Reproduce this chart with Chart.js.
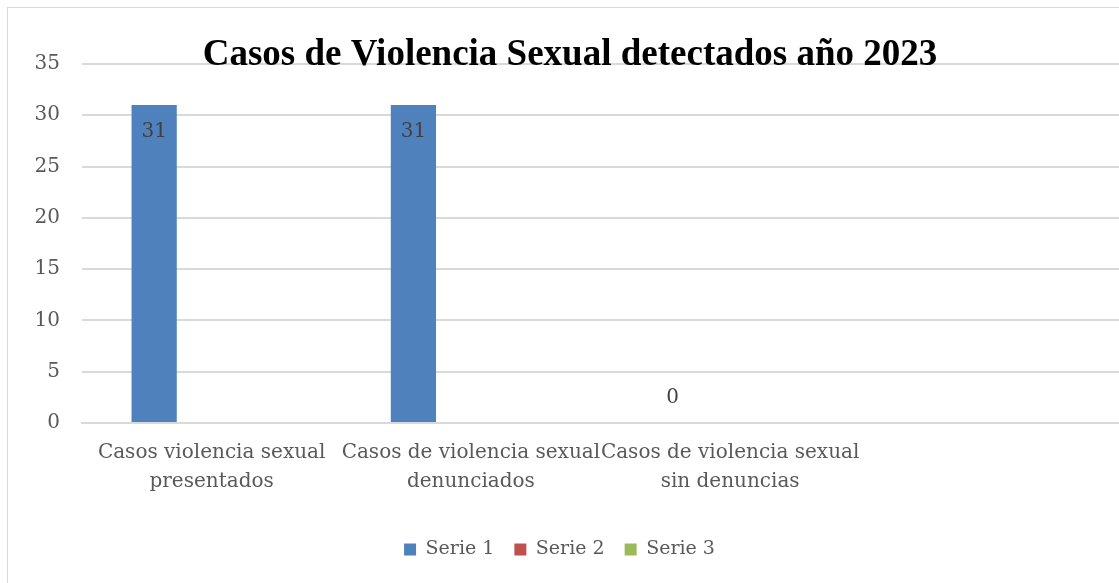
<!DOCTYPE html>
<html>
<head>
<meta charset="utf-8">
<script src="https://cdn.jsdelivr.net/npm/chart.js@4"></script>
<style>
html,body{margin:0;padding:0;background:#fff;overflow:hidden;width:1119px;height:583px;}
#frame{position:absolute;left:7px;top:7px;width:1140px;height:600px;border:1px solid #d9d9d9;box-sizing:border-box;}
#wrap{position:absolute;left:0;top:0;width:1119px;height:583px;}
</style>
</head>
<body>
<div id="frame"></div>
<div id="wrap"><canvas id="c"></canvas></div>
<script>
const titleText = "Casos de Violencia Sexual detectados año 2023";
const categories = [
  ["Casos violencia sexual", "presentados"],
  ["Casos de violencia sexual", "denunciados"],
  ["Casos de violencia sexual", "sin denuncias"],
  ""
];
const seriesNames = ["Serie 1", "Serie 2", "Serie 3"];
const serie1 = [31, 31, 0, null];
const serie2 = [null, null, null, null];
const serie3 = [null, null, null, null];
const yTicks = [0, 5, 10, 15, 20, 25, 30, 35];
const colors = ["#4f81bd", "#c0504d", "#9bbb59"];

const serifFont = "'DejaVu Serif', serif";

const labelPlugin = {
  id: 'barLabels',
  afterDatasetsDraw(chart) {
    const ctx = chart.ctx;
    const meta = chart.getDatasetMeta(0);
    ctx.save();
    ctx.font = "20px " + serifFont;
    ctx.fillStyle = "#404040";
    ctx.textAlign = "center";
    ctx.textBaseline = "middle";
    meta.data.forEach((bar, i) => {
      const v = serie1[i];
      if (v === null || v === undefined) return;
      if (v > 0) ctx.fillText(String(v), bar.x, bar.y + 27);
      else ctx.fillText(String(v), bar.x, bar.base - 25);
    });
    ctx.restore();
  },
  afterDraw(chart) {
    const ctx = chart.ctx;
    ctx.save();
    ctx.font = "bold 37px 'Liberation Serif', 'Times New Roman', serif";
    ctx.fillStyle = "#000";
    ctx.textAlign = "center";
    ctx.textBaseline = "alphabetic";
    ctx.fillText(titleText, 570, 65);
    ctx.restore();
  }
};

new Chart(document.getElementById('c'), {
  type: 'bar',
  data: {
    labels: categories,
    datasets: [
      { label: seriesNames[0], data: serie1, backgroundColor: colors[0] },
      { label: seriesNames[1], data: serie2, backgroundColor: colors[1] },
      { label: seriesNames[2], data: serie3, backgroundColor: colors[2] }
    ]
  },
  options: {
    responsive: true,
    maintainAspectRatio: false,
    animation: false,
    categoryPercentage: 0.665,
    barPercentage: 0.787,
    layout: { padding: { top: 64, right: 0, bottom: 14, left: 0 } },
    plugins: {
      title: { display: false },
      tooltip: { enabled: false },
      legend: {
        position: 'bottom',
        labels: {
          boxWidth: 12, boxHeight: 12, padding: 20,
          color: '#595959',
          font: { family: serifFont, size: 19 }
        }
      }
    },
    scales: {
      x: {
        grid: { display: false, drawTicks: false },
        border: { display: true, color: '#d9d9d9', width: 2 },
        ticks: {
          color: '#595959', font: { family: serifFont, size: 20, lineHeight: 1.45 },
          autoSkip: false, maxRotation: 0, minRotation: 0, padding: 15
        },
        afterFit(s) { s.height = 97; }
      },
      y: {
        min: 0, max: 35,
        afterBuildTicks(s) { s.ticks = yTicks.map(v => ({ value: v })); },
        grid: { color: '#d9d9d9', lineWidth: 2, drawTicks: false },
        border: { display: false },
        ticks: { color: '#595959', font: { family: serifFont, size: 20 }, padding: 22 },
        afterFit(s) { s.width = 82; }
      }
    }
  },
  plugins: [labelPlugin]
});
</script>
</body>
</html>
